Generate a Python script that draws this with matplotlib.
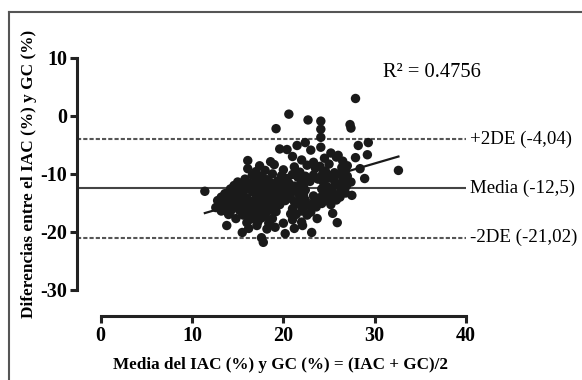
import numpy as np
import matplotlib
matplotlib.use("Agg")
import matplotlib.pyplot as plt
from matplotlib.lines import Line2D

plt.rcParams['font.family'] = ['Liberation Serif', 'DejaVu Serif']
plt.rcParams['axes.unicode_minus'] = False

# valores (Bland-Altman IAC vs GC)
media = [
    27.9, 20.6, 22.7, 24.1, 27.3,
    19.2, 24.1, 27.4,
    24.1,
    22.4, 29.3,
    21.5, 24.1, 28.2,
    19.6, 20.4, 23.0,
    25.2, 26.0, 29.2,
    21.0, 24.5, 25.8, 27.9,
    16.1, 18.6, 22.0, 23.3, 26.5,
    17.4, 19.0, 21.2, 22.6, 24.0, 25.0, 26.4, 27.0,
    16.1, 20.0, 23.5, 28.4,
    17.0, 18.0, 21.8, 24.6, 25.6, 26.8, 32.6,
    16.6, 17.6, 18.8, 19.8, 21.0, 22.4, 23.3, 24.3, 25.3, 26.2, 27.0,
    15.8, 17.0, 18.2, 20.4, 21.6, 23.8, 25.0, 26.6, 28.9,
    15.0, 16.3, 17.4, 18.6, 19.4, 20.6, 22.0, 22.9, 24.4, 25.6, 26.4, 27.4,
    14.6, 15.6, 16.8, 17.8, 19.0, 20.0, 21.2, 22.2, 24.8, 25.8, 26.9,
    14.2, 15.2, 16.2, 17.2, 18.4, 19.4, 20.6, 21.6, 22.4, 24.2, 25.3, 26.3,
    11.4, 16.6, 18.0, 19.8, 21.0, 25.0,
    13.6, 14.6, 15.6, 17.0, 18.8, 20.2, 21.6, 22.2, 24.4, 25.6, 26.8,
    23.3, 27.5,
    13.2, 14.2, 15.2, 16.0, 17.4, 18.4, 19.4, 20.8, 21.8, 24.0, 25.0, 26.2,
    12.8, 13.8, 14.8, 15.8, 16.8, 17.8, 19.0, 20.2, 21.2, 22.4, 23.4, 24.6, 25.8,
    13.2, 14.2, 15.2, 16.2, 17.2, 18.4, 19.6, 21.6, 22.8, 24.2, 25.2,
    12.6, 13.6, 14.6, 15.6, 16.6, 17.8, 18.8, 21.0, 22.2, 23.6,
    13.2, 14.2, 15.2, 16.2, 17.4, 18.4, 19.2, 22.0, 23.0, 25.4, 20.8,
    14.0, 15.6, 16.8, 18.0, 21.4, 22.6,
    14.8, 16.4, 17.6, 18.8, 21.0, 23.7,
    16.0, 17.2, 18.4, 20.0, 22.0, 25.9,
    13.8, 17.1, 19.1, 22.1,
    16.2, 18.2, 21.2,
    15.5, 20.2, 23.1,
    17.6, 17.8,
]
diferencia = [
    3.0, 0.3, -0.7, -0.9, -1.5,
    -2.2, -2.3, -2.1,
    -3.7,
    -4.6, -4.6,
    -5.1, -5.4, -5.1,
    -5.7, -5.8, -5.9,
    -6.4, -6.8, -6.7,
    -7.0, -7.3, -7.1, -7.2,
    -7.7, -7.9, -7.6, -8.0, -7.8,
    -8.6, -8.4, -8.8, -8.5, -8.7, -8.3, -8.9, -8.6,
    -9.1, -9.3, -9.0, -9.1,
    -9.6, -9.4, -9.7, -9.5, -9.8, -9.4, -9.4,
    -10.2, -10.4, -10.0, -10.3, -10.1, -10.4, -10.2, -10.0, -10.3, -10.1, -10.4,
    -10.9, -10.7, -11.0, -10.8, -10.6, -10.9, -10.7, -11.0, -10.8,
    -11.4, -11.6, -11.3, -11.5, -11.2, -11.6, -11.4, -11.3, -11.5, -11.2, -11.6, -11.4,
    -12.0, -12.1, -11.9, -12.2, -12.0, -11.8, -12.1, -12.0, -12.2, -11.9, -12.1,
    -12.6, -12.7, -12.5, -12.8, -12.6, -12.4, -12.7, -12.5, -12.8, -12.6, -12.5, -12.7,
    -13.0, -13.1, -13.0, -13.2, -12.9, -13.1,
    -13.4, -13.5, -13.3, -13.6, -13.4, -13.5, -13.3, -13.6, -13.4, -13.5, -13.3,
    -13.8, -13.7,
    -14.0, -14.1, -13.9, -14.2, -14.0, -14.1, -13.9, -14.2, -14.0, -14.1, -13.9, -14.0,
    -14.6, -14.7, -14.5, -14.8, -14.6, -14.5, -14.7, -14.6, -14.8, -14.5, -14.7, -14.6, -14.5,
    -15.2, -15.3, -15.1, -15.4, -15.2, -15.1, -15.3, -15.2, -15.4, -15.1, -15.3,
    -15.8, -15.9, -15.7, -16.0, -15.8, -15.9, -15.7, -16.0, -15.8, -15.7,
    -16.4, -16.5, -16.3, -16.6, -16.4, -16.3, -16.5, -16.4, -16.6, -16.8, -16.9,
    -17.0, -17.1, -17.0, -17.2, -17.0, -17.1,
    -17.7, -17.8, -17.6, -17.7, -17.9, -17.7,
    -18.4, -18.3, -18.5, -18.5, -18.3, -18.4,
    -18.9, -18.9, -19.2, -18.9,
    -19.4, -19.5, -19.4,
    -20.1, -20.3, -20.1,
    -21.0, -21.8,
]

media_dif = -12.5
lim_sup = -4.04
lim_inf = -21.02
pendiente = 0.46
intercepto = -22.0
r2 = 0.4756

xticks = [0, 10, 20, 30, 40]
yticks = [10, 0, -10, -20, -30]

fig = plt.figure(figsize=(5.82, 3.8), dpi=100)
ax = fig.add_axes([0.1323, 0.1684, 0.6684, 0.6869])

ax.scatter(media, diferencia, s=46, color='#1a1a1a', edgecolors='none', zorder=3)

xr = np.array([min(media), max(media)])
ax.plot(xr, intercepto + pendiente * xr, color='#1a1a1a', lw=1.6, zorder=4)

ax.axhline(media_dif, color='#444444', lw=1.5, zorder=2)
ax.axhline(lim_sup, color='#555555', lw=1.5, ls=(0, (2.0, 1.0)), zorder=2)
ax.axhline(lim_inf, color='#555555', lw=1.5, ls=(0, (2.0, 1.0)), zorder=2)

ax.set_xlim(-2.6, 40)
ax.set_ylim(-34.5, 10.5)

for s in ['top', 'right']:
    ax.spines[s].set_visible(False)
ax.spines['left'].set_bounds(-30, 10)
ax.spines['bottom'].set_bounds(0, 40)
for s in ['left', 'bottom']:
    ax.spines[s].set_linewidth(2.2)
    ax.spines[s].set_color('#222222')

ax.set_xticks(xticks)
ax.set_yticks(yticks)
ax.tick_params(direction='out', length=5, width=2.2, color='#222222',
               labelsize=14.5, pad=2)
for lab in ax.get_xticklabels() + ax.get_yticklabels():
    lab.set_fontweight('bold')

ax.set_xlabel('Media del IAC (%) y GC (%) = (IAC + GC)/2',
              fontsize=12.3, fontweight='bold')
ax.set_ylabel('Diferencias entre el IAC (%) y GC (%)',
              fontsize=12.4, fontweight='bold')
ax.xaxis.set_label_coords(0.522, -0.157)
ax.yaxis.set_label_coords(-0.104, 0.546)

ax.text(40.4, lim_sup, '+2DE (-4,04)', fontsize=13.6, va='center', ha='left')
ax.text(40.4, media_dif, 'Media (-12,5)', fontsize=13.6, va='center', ha='left')
ax.text(40.4, lim_inf, '-2DE (-21,02)', fontsize=13.6, va='center', ha='left')
ax.text(30.9, 7.4, f'R\u00b2 = {r2}', fontsize=14.8, va='center', ha='left')

# marco exterior (solo arriba e izquierda)
fig.add_artist(Line2D([9 / 582, 1], [1 - 12 / 380, 1 - 12 / 380],
                      transform=fig.transFigure, color='#555555', lw=1.5))
fig.add_artist(Line2D([9 / 582, 9 / 582], [0, 1 - 12 / 380],
                      transform=fig.transFigure, color='#555555', lw=1.5))

fig.savefig('out.png', dpi=100)
